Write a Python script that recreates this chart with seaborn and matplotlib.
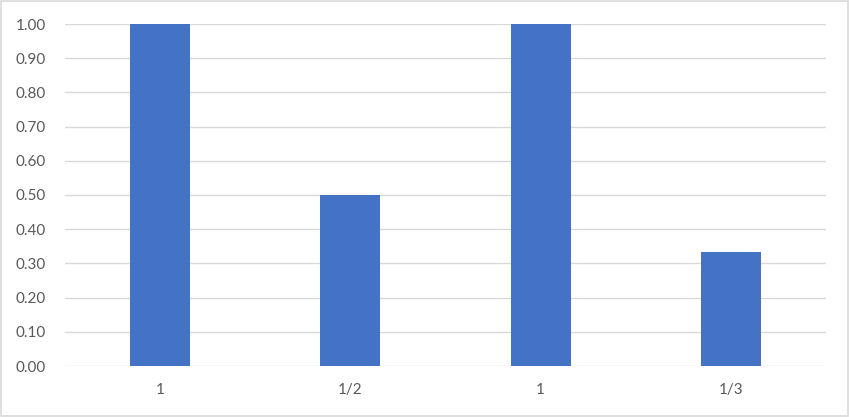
import matplotlib
matplotlib.use("Agg")
import matplotlib.pyplot as plt
import seaborn as sns
import pandas as pd

# chart data
tick_labels = ["1", "1/2", "1", "1/3"]
values = [1.00, 0.50, 1.00, 0.333]
slots = [0, 1, 2, 3]  # labels repeat, so bars are keyed by slot

sns.set_theme(style="white")
plt.rcParams["font.family"] = ["Lato", "DejaVu Sans"]

df = pd.DataFrame({"slot": slots, "value": values})

fig = plt.figure(figsize=(8.5, 4.17), dpi=100)
ax = fig.add_axes([65 / 850, 1 - 366 / 417, 761 / 850, 342 / 417])

sns.barplot(data=df, x="slot", y="value", color="#4472C4", saturation=1,
            width=0.315, linewidth=0, ax=ax, zorder=3)

ax.set_xlim(-0.5, 3.5)
ax.set_ylim(0, 1.0)
ax.set_yticks([i / 10 for i in range(11)])
ax.set_yticklabels([f"{i / 10:.2f}" for i in range(11)])
ax.set_xticks(slots)
ax.set_xticklabels(tick_labels)
ax.set_xlabel("")
ax.set_ylabel("")

ax.grid(axis="y", color="#D9D9D9", linewidth=1, zorder=0)
ax.set_axisbelow(True)
for s in ax.spines.values():
    s.set_visible(False)
ax.tick_params(axis="both", length=0, labelsize=11, colors="#595959")
ax.tick_params(axis="y", pad=14)
ax.tick_params(axis="x", pad=12)

# outer chart border
fig.patches.append(plt.Rectangle((0.001, 0.002), 0.997, 0.996, transform=fig.transFigure,
                                 fill=False, edgecolor="#D9D9D9", linewidth=1.2))

fig.savefig("out.png", dpi=100, facecolor="white")
